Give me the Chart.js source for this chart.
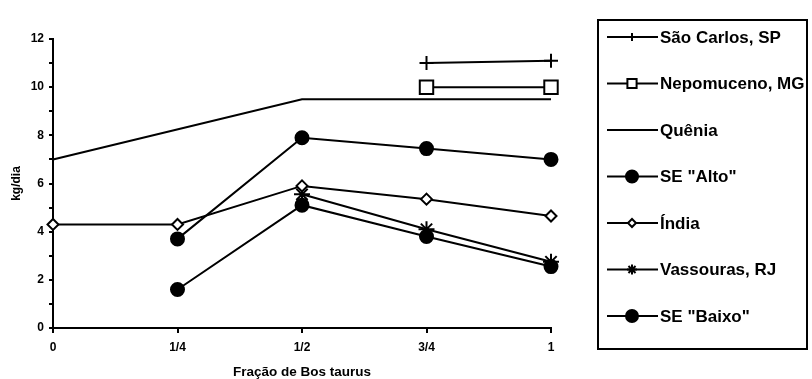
<!DOCTYPE html>
<html>
<head>
<meta charset="utf-8">
<script src="https://cdn.jsdelivr.net/npm/chart.js@4"></script>
<style>
  html, body { margin: 0; padding: 0; background: #fff; }
</style>
</head>
<body>
<canvas id="grafico" width="812" height="379"></canvas>
<script>
// categorias (fração de Bos taurus)
const fracoes = ['0', '1/4', '1/2', '3/4', '1'];

// ganho de peso (kg/dia) por local
const saoCarlos  = [null, null, null, 11.0, 11.1];
const nepomuceno = [null, null, null, 10.0, 10.0];
const quenia     = [7.0, null, 9.5, 9.5, 9.5];
const seAlto     = [null, 3.7, 7.9, 7.45, 7.0];
const india      = [4.3, 4.3, 5.9, 5.35, 4.65];
const vassouras  = [null, null, 5.55, 4.1, 2.75];
const seBaixo    = [null, 1.6, 5.1, 3.8, 2.55];

const fonte = "'Liberation Sans', Arial, sans-serif";

function serie(nome, dados, estilo, raio, fundo, raioLegenda) {
    return {
        label: nome,
        data: dados,
        borderColor: '#000',
        borderWidth: 2,
        pointStyle: estilo,
        pointRadius: raio,
        pointHoverRadius: raio,
        pointBorderWidth: 2,
        pointBorderColor: '#000',
        pointBackgroundColor: fundo,
        raioLegenda: raioLegenda,
        spanGaps: true,
        tension: 0
    };
}

const datasets = [
    serie('São Carlos, SP', saoCarlos, 'cross', 7, '#000', 4),
    serie('Nepomuceno, MG', nepomuceno, 'rect', 9.5, '#fff', 6.5),
    serie('Quênia', quenia, false, 0, '#000', 0),
    serie('SE "Alto"', seAlto, 'circle', 6.5, '#000', 6),
    serie('Índia', india, 'rectRot', 5.5, '#fff', 4),
    serie('Vassouras, RJ', vassouras, 'star', 8, '#000', 5),
    serie('SE "Baixo"', seBaixo, 'circle', 6.5, '#000', 6)
];

// legenda em caixa à direita
const legendaCaixa = {
    id: 'legendaCaixa',
    afterDraw(chart) {
        const ctx = chart.ctx;
        ctx.save();
        ctx.strokeStyle = '#000';
        ctx.lineWidth = 2;
        ctx.strokeRect(598, 20, 209, 329);
        chart.data.datasets.forEach((ds, i) => {
            const y = 37 + i * 46.5;
            ctx.strokeStyle = '#000';
            ctx.lineWidth = 2;
            ctx.beginPath();
            ctx.moveTo(607, y);
            ctx.lineTo(658, y);
            ctx.stroke();
            if (ds.pointStyle) {
                ctx.fillStyle = ds.pointBackgroundColor;
                ctx.lineWidth = 2;
                Chart.helpers.drawPoint(ctx, {
                    pointStyle: ds.pointStyle,
                    radius: ds.raioLegenda,
                    rotation: 0,
                    borderWidth: 2
                }, 632, y);
            }
            ctx.fillStyle = '#000';
            ctx.font = 'bold 17px ' + fonte;
            ctx.textBaseline = 'middle';
            ctx.textAlign = 'left';
            ctx.fillText(ds.label, 660, y + 1);
        });
        ctx.restore();
    }
};

new Chart(document.getElementById('grafico').getContext('2d'), {
    type: 'line',
    data: { labels: fracoes, datasets: datasets },
    options: {
        responsive: false,
        animation: false,
        devicePixelRatio: 1,
        layout: { padding: { top: 39, right: 261, left: 0, bottom: 0 } },
        plugins: {
            legend: { display: false },
            tooltip: { enabled: false }
        },
        scales: {
            x: {
                type: 'category',
                offset: false,
                afterFit: s => { s.height = 51; },
                border: { display: true, color: '#000', width: 2 },
                grid: { drawOnChartArea: false, color: '#000', lineWidth: 2, tickLength: 5 },
                ticks: { color: '#000', padding: 7, maxRotation: 0, font: { family: fonte, size: 12, weight: 'bold' } },
                title: {
                    display: true,
                    text: 'Fração de Bos taurus',
                    color: '#000',
                    padding: { top: 0, bottom: 0 },
                    font: { family: fonte, size: 13.5, weight: 'bold', lineHeight: 1 }
                }
            },
            y: {
                min: 0,
                max: 12,
                afterFit: s => { s.width = 53; },
                border: { display: true, color: '#000', width: 2 },
                grid: { drawOnChartArea: false, color: '#000', lineWidth: 2, tickLength: 4 },
                ticks: {
                    stepSize: 1,
                    color: '#000',
                    padding: 5,
                    font: { family: fonte, size: 12, weight: 'bold' },
                    callback: v => (v % 2 === 0 ? v : '')
                },
                title: {
                    display: true,
                    text: 'kg/dia',
                    color: '#000',
                    padding: { top: 9, bottom: 0 },
                    font: { family: fonte, size: 12, weight: 'bold' }
                }
            }
        }
    },
    plugins: [legendaCaixa]
});
</script>
</body>
</html>
